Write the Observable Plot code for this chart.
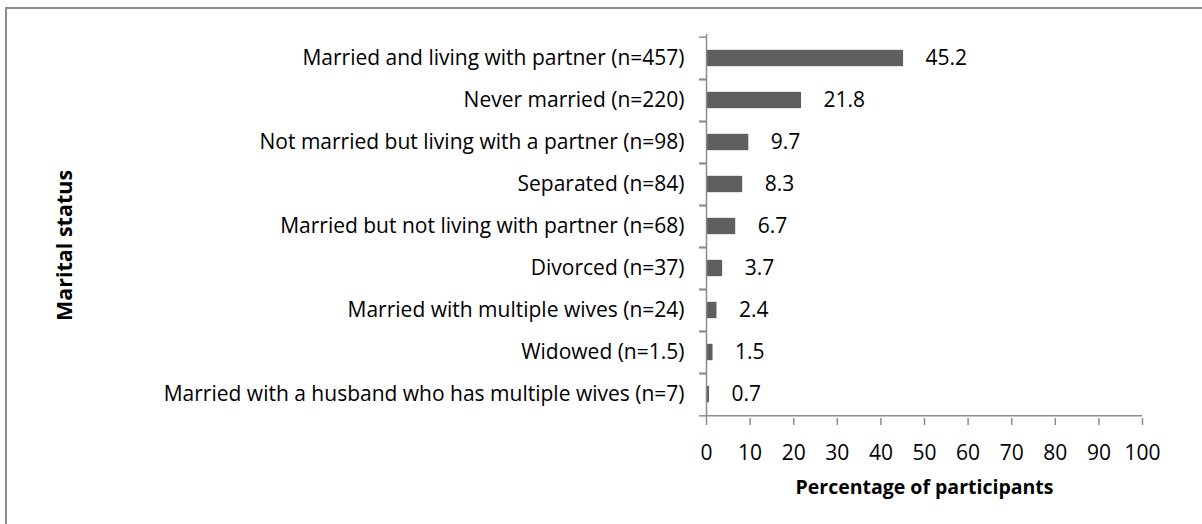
<!DOCTYPE html>
<html>
<head>
<meta charset="utf-8">
<script src="https://cdn.jsdelivr.net/npm/d3@7"></script>
<script src="https://cdn.jsdelivr.net/npm/@observablehq/plot@0.6"></script>
<style>
  html, body { margin: 0; padding: 0; background: #fff; }
  #wrap { position: relative; width: 1202px; height: 524px; overflow: hidden; }
  #border { position: absolute; left: 5px; top: 7px; right: -10px; bottom: -10px;
            border-top: 2px solid #8c8c8c; border-left: 2px solid #8c8c8c; pointer-events: none; }
</style>
</head>
<body>
<div id="wrap"><div id="border"></div></div>
<script>
const categories = [
  "Married and living with partner (n=457)",
  "Never married (n=220)",
  "Not married but living with a partner (n=98)",
  "Separated (n=84)",
  "Married but not living with partner (n=68)",
  "Divorced (n=37)",
  "Married with multiple wives (n=24)",
  "Widowed (n=1.5)",
  "Married with a husband who has multiple wives (n=7)"
];
const values = [45.2, 21.8, 9.7, 8.3, 6.7, 3.7, 2.4, 1.5, 0.7];
const xTicks = [0, 10, 20, 30, 40, 50, 60, 70, 80, 90, 100];
const xTitle = "Percentage of participants";
const yTitle = "Marital status";

const data = categories.map((c, i) => ({category: c, value: values[i]}));

const W = 1202, H = 524;
const mL = 706, mR = 60, mT = 34, mB = 106;
const step = (H - mT - mB) / categories.length;
const font = "'Open Sans', Lato, sans-serif";
const fs = 21;
const axisColor = "#8c8c8c";

const chart = Plot.plot({
  width: W,
  height: H,
  marginLeft: mL,
  marginRight: mR,
  marginTop: mT,
  marginBottom: mB,
  style: {fontFamily: font, fontSize: fs + "px", color: "#000", background: "transparent"},
  x: {domain: [0, 100], axis: null},
  y: {domain: categories, padding: 0, axis: null},
  marks: [
    Plot.barX(data, {x: "value", y: "category", fill: "#5f5f5f",
                     insetTop: (step - 17) / 2, insetBottom: (step - 17) / 2}),
    Plot.text(data, {x: "value", y: "category", text: d => d.value.toFixed(1),
                     textAnchor: "start", dx: 22, fill: "#000", fontSize: fs}),
    // y axis line
    Plot.ruleX([0], {stroke: axisColor, strokeWidth: 1.5}),
    // x axis baseline
    Plot.ruleY([categories[categories.length - 1]], {y: d => d, dy: step / 2, stroke: axisColor, strokeWidth: 1.5}),
    // y category boundary ticks
    Plot.axisY({tickSize: 7, text: null, label: null, dy: -step / 2, stroke: axisColor, strokeWidth: 1.5}),
    Plot.axisY({tickSize: 7, text: null, label: null, dy: step / 2, stroke: axisColor, strokeWidth: 1.5}),
    // y labels
    Plot.axisY({tickSize: 0, tickPadding: 22, label: null, fontSize: fs, fill: "#000"}),
    // x axis ticks
    Plot.axisX({ticks: xTicks, tickSize: 7, tickPadding: 20, label: null, stroke: axisColor,
                strokeWidth: 1.5, fontSize: fs, fill: "#000", tickFormat: d => String(d)}),
    // titles
    Plot.text([xTitle], {frameAnchor: "bottom", lineAnchor: "middle", dy: 69, fontWeight: "bold", fontSize: 19.5, fill: "#000"}),
    Plot.text([yTitle], {frameAnchor: "left", textAnchor: "middle", lineAnchor: "middle", dx: -641, dy: 19, rotate: -90, fontWeight: "bold", fontSize: 21.5, fill: "#000"})
  ]
});
document.getElementById("wrap").prepend(chart);
</script>
</body>
</html>
